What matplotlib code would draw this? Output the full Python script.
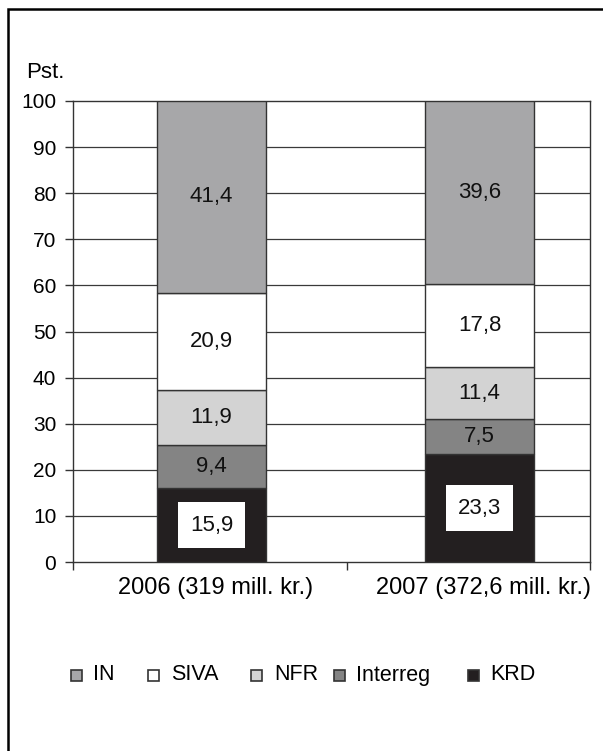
import matplotlib
matplotlib.use("Agg")
import matplotlib.pyplot as plt
from matplotlib.patches import Rectangle
from matplotlib.transforms import ScaledTranslation
import numpy as np

plt.rcParams['font.family'] = ['Liberation Sans', 'DejaVu Sans']

categories = ["2006 (319 mill. kr.)", "2007 (372,6 mill. kr.)"]
series_names = ["KRD", "Interreg", "NFR", "SIVA", "IN"]
KRD = [15.9, 23.3]
Interreg = [9.4, 7.5]
NFR = [11.9, 11.4]
SIVA = [20.9, 17.8]
IN = [41.4, 39.6]
yticks = [0, 10, 20, 30, 40, 50, 60, 70, 80, 90, 100]

colors = {"KRD": "#231f20", "Interreg": "#848484", "NFR": "#d3d3d3",
          "SIVA": "#ffffff", "IN": "#a7a7a9"}

data = np.array([KRD, Interreg, NFR, SIVA, IN], dtype=float)
totals = data.sum(axis=0)
norm = data / totals * 100.0

W, H = 603, 751
fig = plt.figure(figsize=(W / 100, H / 100), dpi=100)
fig.patch.set_facecolor("white")
ax = fig.add_axes([73 / W, 1 - 562 / H, (590 - 73) / W, (562 - 101) / H])

x = np.arange(len(categories))
bottom = np.zeros(len(categories))
for name, vals, raw in zip(series_names, norm, data):
    ax.bar(x, vals, width=0.407, bottom=bottom, color=colors[name],
           edgecolor="#333333", linewidth=1.0, zorder=3)
    for xi, b, v, r in zip(x, bottom, vals, raw):
        lbl = f"{r:.1f}".replace(".", ",")
        kw = {}
        if name == "KRD":
            kw = dict(bbox=dict(boxstyle="square,pad=0.55", fc="white", ec="none"))
        ax.text(xi, b + v / 2, lbl, ha="center", va="center", fontsize=16,
                color="#111111", zorder=5, **kw)
    bottom += vals

ax.set_xlim(-0.517, 1.412)
ax.set_ylim(0, 100)
ax.set_yticks(yticks)
ax.set_yticklabels([str(t) for t in yticks], fontsize=15)
for t in yticks[1:-1]:
    ax.axhline(t, color="#3a3a3a", linewidth=0.9, zorder=1)

ax.set_xticks(x)
ax.set_xticklabels(categories, fontsize=17)
ax.tick_params(axis="x", which="major", length=0, pad=11)
off = ScaledTranslation(4 / 100, 0, fig.dpi_scale_trans)
for lab in ax.get_xticklabels():
    lab.set_transform(lab.get_transform() + off)
ax.set_xticks([-0.517, 0.505, 1.412], minor=True)
ax.tick_params(axis="x", which="minor", length=6, width=1, color="#333333")
ax.tick_params(axis="y", length=6, width=1, color="#333333", pad=6)

for s in ax.spines.values():
    s.set_color("#333333")
    s.set_linewidth(1.0)

fig.text(26 / W, 1 - 72 / H, "Pst.", fontsize=16, ha="left", va="center")

# legend (manual)
leg_items = [("IN", 71, 93), ("SIVA", 148, 171), ("NFR", 251, 274),
             ("Interreg", 334, 356), ("KRD", 468, 490)]
ly = 675
for name, mx, tx in leg_items:
    fig.patches.append(Rectangle((mx / W, 1 - (ly + 5.5) / H), 11 / W, 11 / H,
                                 transform=fig.transFigure, facecolor=colors[name],
                                 edgecolor="#333333", linewidth=1.2))
    fig.text(tx / W, 1 - ly / H, name, fontsize=15.5, ha="left", va="center")

# outer frame
fig.patches.append(Rectangle((7.5 / W, -0.05), 1.2, 1 - 9.5 / H + 0.05,
                             transform=fig.transFigure, fill=False,
                             edgecolor="black", linewidth=1.8))

fig.savefig("out.png", dpi=100)
